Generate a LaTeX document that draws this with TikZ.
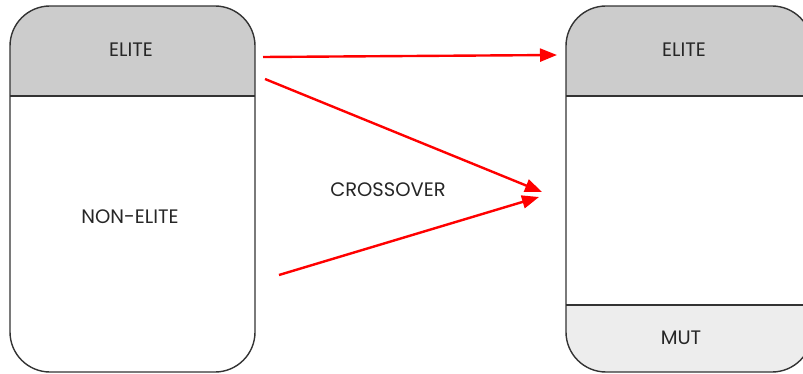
\documentclass[tikz,border=0pt]{standalone}
\usepackage{fontspec}
\setmainfont{Poppins}
\usetikzlibrary{arrows.meta}

\definecolor{elitegrey}{HTML}{CCCCCC}
\definecolor{mutgrey}{HTML}{EDEDED}
\definecolor{edgegrey}{HTML}{333333}

\tikzset{
  pool/.style={draw=edgegrey, line width=1.4pt, rounded corners=40pt},
  part/.style={draw=edgegrey, line width=1.4pt},
  lbl/.style={font=\fontsize{19.5}{22}\selectfont, text=black!85},
  move/.style={red, line width=2.4pt, -{Triangle[length=17pt,width=13pt]}}
}

\begin{document}
\begin{tikzpicture}[x=1pt,y=-1pt]
   \useasboundingbox (0,0) rectangle (803,374);
   \clip (0,0) rectangle (803,374);

   % old population
   \begin{scope}
     \clip[rounded corners=40pt] (10,6) rectangle (255,372);
     \fill[elitegrey] (10,6) rectangle (255,96);
   \end{scope}
   \draw[pool] (10,6) rectangle (255,372);
   \draw[part] (10,96) -- (255,96);

   % new population
   \begin{scope}
     \clip[rounded corners=40pt] (566,6) rectangle (812,372);
     \fill[elitegrey] (566,6) rectangle (812,96);
     \fill[mutgrey] (566,305) rectangle (812,372);
   \end{scope}
   \draw[pool] (566,6) rectangle (812,372);
   \draw[part] (566,96) -- (812,96);
   \draw[part] (566,305) -- (812,305);

   \node[lbl] (elite_a) at (131,50) {ELITE};
   \node[lbl] (nonelite) at (130,217) {NON-ELITE};
   \node[lbl] (cross) at (388,190) {CROSSOVER};
   \node[lbl] (elite_b) at (684,50) {ELITE};
   \node[lbl] (mut) at (681,338) {MUT};

   \coordinate (from_e) at (263,57);
   \coordinate (to_e) at (557,55);
   \coordinate (from_p1) at (265,79);
   \coordinate (to_c1) at (542,192);
   \coordinate (from_p2) at (279,275);
   \coordinate (to_c2) at (539,197);

   \draw[move] (from_e) -- (to_e);
   \draw[move] (from_p1) -- (to_c1);
   \draw[move] (from_p2) -- (to_c2);
\end{tikzpicture}
\end{document}
